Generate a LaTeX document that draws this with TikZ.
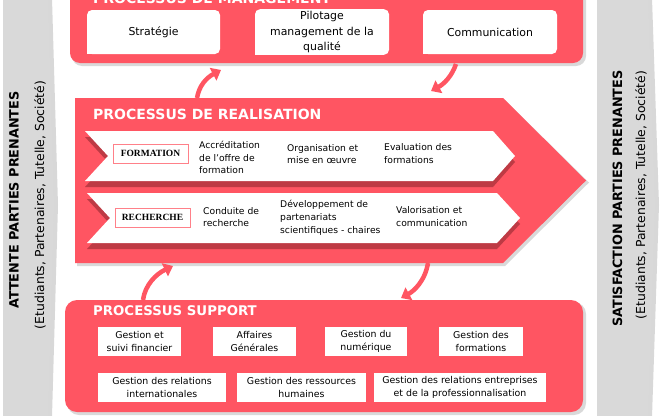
\documentclass[tikz,border=0pt]{standalone}
\usepackage{fontspec}
\setmainfont{DejaVu Sans}
\newfontfamily\labfont{Liberation Serif}
\usetikzlibrary{arrows.meta}
\definecolor{rmain}{RGB}{255,85,98}
\definecolor{rdark}{RGB}{190,58,68}
\definecolor{barg}{RGB}{217,217,217}
\begin{document}
\begin{tikzpicture}[x=1pt,y=-1pt,
  title/.style={text=white,font=\bfseries\fontsize{14}{16}\selectfont,anchor=base west,inner sep=0pt},
  mbox/.style={fill=white,rounded corners=5pt,minimum height=44pt,text width=126pt,align=center,inner sep=2pt,font=\fontsize{10.9}{15.5}\selectfont},
  rtext/.style={anchor=west,align=left,inner sep=0pt,font=\fontsize{9.2}{12.8}\selectfont},
  lab/.style={fill=white,draw=rmain!75,line width=0.8pt,minimum width=75pt,minimum height=19pt,inner sep=0pt,font=\labfont\bfseries\fontsize{9.5}{11}\selectfont},
  sbox/.style={fill=white,minimum height=29pt,inner sep=1pt,align=center,font=\fontsize{9.4}{13.3}\selectfont},
  cycarrow/.style={draw=rmain,line width=4.5pt,-{Triangle[length=9pt,width=14pt]}},
  bartitle/.style={rotate=90,inner sep=0pt,font=\bfseries\fontsize{12.8}{15}\selectfont},
  barsub/.style={rotate=90,inner sep=0pt,font=\fontsize{12.4}{15}\selectfont}
]
\useasboundingbox (0,0) rectangle (660,415);

% side bars
\fill[black!30,opacity=0.5] (7,-2) -- (52,-2) -- (58,205) -- (52,417) -- (7,417) -- cycle;
\fill[barg] (3,-2) -- (48,-2) -- (54,205) -- (48,417) -- (3,417) -- cycle;
\node[bartitle] (attente) at (14,200) {ATTENTE PARTIES PRENANTES};
\node[barsub] (attentesub) at (40,205) {(Etudiants,\ Partenaires,\ Tutelle,\ Société)};

\fill[black!30,opacity=0.5] (601,-2) -- (652,-2) -- (659,205) -- (652,417) -- (601,417) -- cycle;
\fill[barg] (597,-2) -- (648,-2) -- (655,205) -- (648,417) -- (597,417) -- cycle;
\node[bartitle] (satis) at (617.5,198.5) {SATISFACTION PARTIES PRENANTES};
\node[barsub] (satissub) at (641,195) {(Etudiants,\ Partenaires,\ Tutelle,\ Société)};

% management
\fill[black,opacity=0.15,rounded corners=10pt] (72,-20) rectangle (586,66);
\fill[rmain,rounded corners=10pt] (70,-20) rectangle (583,63);
\node[title] (mtitle) at (93,4) {PROCESSUS DE MANAGEMENT};
\node[mbox,minimum width=133pt] (strat) at (153.5,32) {Stratégie};
\node[mbox,minimum width=134pt] (pilot) at (322,32) {Pilotage\\management de la\\qualité};
\node[mbox,minimum width=134pt] (comm) at (490,32) {Communication};
\foreach \b in {strat,pilot,comm}{\fill[white] (\b.south west) rectangle ++(6,-6);}

% realisation
\fill[black,opacity=0.15] (77,100) -- (505,100) -- (589,182.5) -- (505,266) -- (77,266) -- cycle;
\fill[rmain] (75,98) -- (503,98) -- (586,180.5) -- (503,263) -- (75,263) -- cycle;
\node[title] (rtitle) at (93,119) {PROCESSUS DE REALISATION};

\fill[rdark] (85,137) -- (493,137) -- (515,162) -- (493,187) -- (85,187) -- (108,162) -- cycle;
\fill[white] (85,131) -- (493,131) -- (515,156) -- (493,181) -- (85,181) -- (108,156) -- cycle;
\fill[rdark] (87,199) -- (497,199) -- (520,224) -- (497,249) -- (87,249) -- (110,224) -- cycle;
\fill[white] (87,193) -- (497,193) -- (520,218) -- (497,243) -- (87,243) -- (110,218) -- cycle;

\node[lab] (formation) at (150.5,153.5) {FORMATION};
\node[lab] (recherche) at (152.5,217.5) {RECHERCHE};

\node[rtext] (accr) at (199,157.5) {Accréditation\\de l’offre de\\formation};
\node[rtext] (orga) at (287,154) {Organisation et\\mise en œuvre};
\node[rtext] (eval) at (384,153.5) {Evaluation des\\formations};
\node[rtext] (cond) at (203,217) {Conduite de\\recherche};
\node[rtext] (dev) at (280,218) {Développement de\\partenariats\\scientifiques - chaires};
\node[rtext] (valo) at (396,216.5) {Valorisation et\\communication};

% support
\fill[black,opacity=0.15,rounded corners=12pt] (67,302) rectangle (586,415);
\fill[rmain,rounded corners=12pt] (65,300) rectangle (583,412);
\node[title,font=\bfseries\fontsize{13.3}{16}\selectfont] (stitle) at (93,315) {PROCESSUS SUPPORT};
\node[sbox,minimum width=83pt] (fin) at (139.5,341.5) {Gestion et\\suivi financier};
\node[sbox,minimum width=83pt] (aff) at (254.5,341.5) {Affaires\\Générales};
\node[sbox,minimum width=82pt] (num) at (366,341.5) {Gestion du\\numérique};
\node[sbox,minimum width=84pt] (gform) at (481,341.5) {Gestion des\\formations};
\node[sbox,minimum width=128pt] (ri) at (162,387.5) {Gestion des relations\\internationales};
\node[sbox,minimum width=129pt] (rh) at (301.5,387.5) {Gestion des ressources\\humaines};
\node[sbox,minimum width=172pt] (re) at (460,387.5) {Gestion des relations entreprises\\et de la professionnalisation};

% cycle arrows
\coordinate (a1s) at (197,98);
\coordinate (a1e) at (221,70);
\coordinate (a2s) at (456,64);
\coordinate (a2e) at (431,91);
\coordinate (a3s) at (143,300);
\coordinate (a3e) at (173,266);
\coordinate (a4s) at (428,263);
\coordinate (a4e) at (401,298);
\draw[cycarrow] (a1s) .. controls (199,86) and (206,78) .. (a1e);
\draw[cycarrow] (a2s) .. controls (452,76) and (444,84) .. (a2e);
\draw[cycarrow] (a3s) .. controls (145,285) and (156,274) .. (a3e);
\draw[cycarrow] (a4s) .. controls (425,281) and (414,291) .. (a4e);
\end{tikzpicture}
\end{document}
